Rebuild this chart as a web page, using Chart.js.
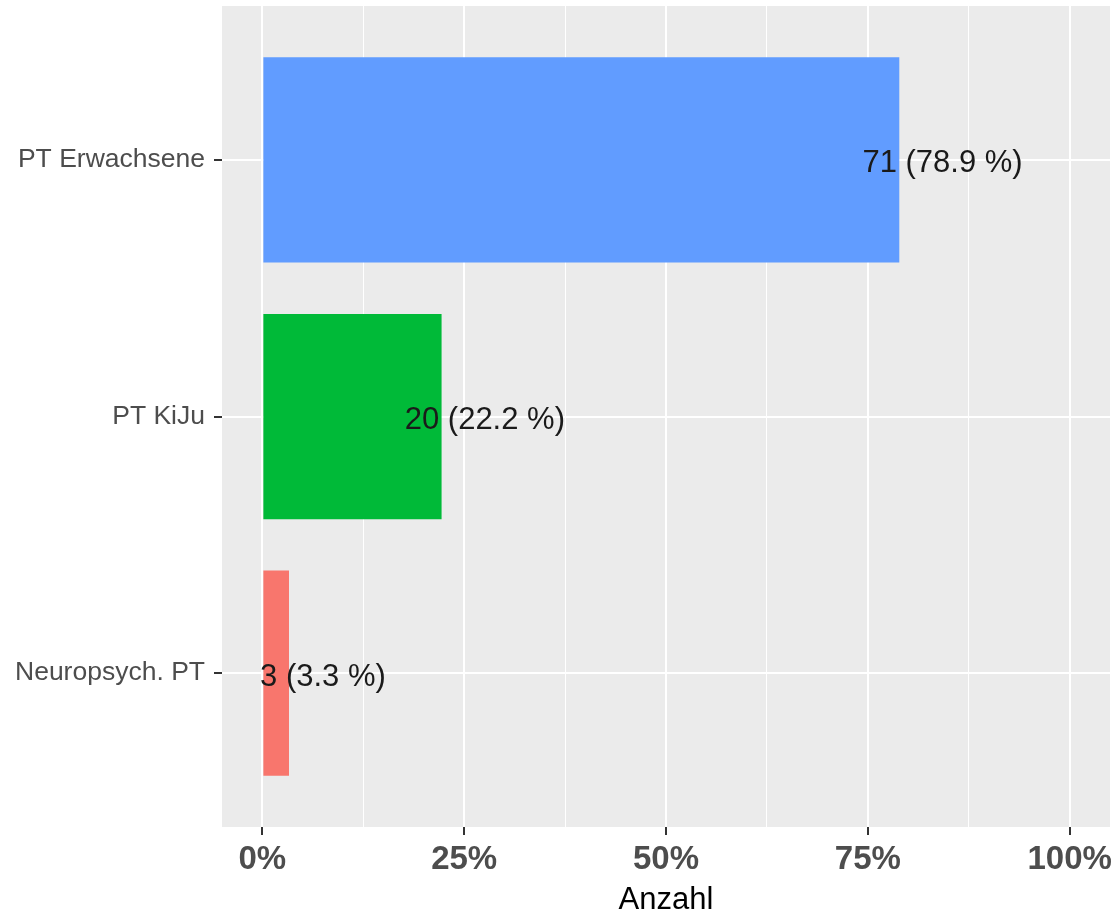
<!DOCTYPE html>
<html>
<head>
<meta charset="utf-8">
<script src="https://cdn.jsdelivr.net/npm/chart.js@4/dist/chart.umd.min.js"></script>
<style>
  html, body { margin: 0; padding: 0; background: #fff; }
  #wrap { width: 1113px; height: 915px; }
</style>
</head>
<body>
<div id="wrap"><canvas id="myChart" width="1113" height="915"></canvas></div>
<script>
// categories top to bottom
var categories = ["PT Erwachsene", "PT KiJu", "Neuropsych. PT"];
var counts = [71, 20, 3];
var percents = [78.9, 22.2, 3.3];
var barColors = ["#619CFF", "#00BA38", "#F8766D"];
var xTicks = [0, 25, 50, 75, 100];
var xMinor = [12.5, 37.5, 62.5, 87.5];

var FONT = "'Liberation Sans', Arial, sans-serif";

var points = categories.map(function (c, i) {
  return { x: percents[i], y: i + 1 };
});

var panelBg = {
  id: "panelBg",
  beforeDraw: function (chart) {
    var a = chart.chartArea, ctx = chart.ctx;
    ctx.save();
    ctx.fillStyle = "#EBEBEB";
    ctx.fillRect(a.left, a.top, a.right - a.left, a.bottom - a.top);
    ctx.restore();
  }
};

var barLabels = {
  id: "barLabels",
  afterDatasetsDraw: function (chart) {
    var ctx = chart.ctx;
    var meta = chart.getDatasetMeta(0);
    ctx.save();
    ctx.font = "31px " + FONT;
    ctx.fillStyle = "#1A1A1A";
    ctx.textAlign = "left";
    ctx.textBaseline = "middle";
    meta.data.forEach(function (bar, i) {
      var txt = counts[i] + " (" + percents[i].toFixed(1) + " %)";
      var w = ctx.measureText(txt).width;
      ctx.fillText(txt, bar.x - 0.23 * w, bar.y + 4);
    });
    ctx.restore();
  }
};

new Chart("myChart", {
  type: "bar",
  data: {
    datasets: [{
      data: points,
      backgroundColor: barColors,
      borderWidth: 0,
      categoryPercentage: 1,
      barPercentage: 0.8
    }]
  },
  options: {
    indexAxis: "y",
    responsive: false,
    animation: false,
    layout: { padding: { top: 6, right: 3, left: 0, bottom: 0 } },
    plugins: { legend: { display: false }, tooltip: { enabled: false } },
    scales: {
      x: {
        type: "linear",
        min: -5,
        max: 105,
        afterBuildTicks: function (s) {
          s.ticks = xTicks.concat(xMinor).sort(function (a, b) { return a - b; })
            .map(function (v) { return { value: v }; });
        },
        afterFit: function (s) {
          s.height = 88;
          s.paddingLeft = 0;
          s.paddingRight = 0;
        },
        border: { display: false },
        grid: {
          color: "#FFFFFF",
          lineWidth: function (c) { return xTicks.indexOf(c.tick.value) >= 0 ? 2 : 1; },
          tickColor: function (c) { return xTicks.indexOf(c.tick.value) >= 0 ? "#333333" : "rgba(0,0,0,0)"; },
          tickWidth: 2,
          tickLength: 8
        },
        ticks: {
          autoSkip: false,
          maxRotation: 0,
          padding: 5,
          color: "#4D4D4D",
          font: { family: FONT, size: 33, weight: "bold" },
          callback: function (v) { return xTicks.indexOf(v) >= 0 ? v + "%" : ""; }
        },
        title: {
          display: true,
          text: "Anzahl",
          color: "#000000",
          padding: { top: 0, bottom: -4 },
          font: { family: FONT, size: 31 }
        }
      },
      y: {
        type: "linear",
        min: 0.4,
        max: 3.6,
        reverse: true,
        offset: false,
        afterBuildTicks: function (s) {
          s.ticks = categories.map(function (c, i) { return { value: i + 1 }; });
        },
        afterFit: function (s) {
          s.width = 222;
          s.paddingTop = 0;
          s.paddingBottom = 0;
        },
        border: { display: false },
        grid: {
          offset: false,
          color: "#FFFFFF",
          lineWidth: 2,
          tickColor: "#333333",
          tickWidth: 2,
          tickLength: 8
        },
        ticks: {
          autoSkip: false,
          padding: 9,
          color: "#4D4D4D",
          font: { family: FONT, size: 26.5 },
          callback: function (v) { return categories[v - 1]; }
        }
      }
    }
  },
  plugins: [panelBg, barLabels]
});
</script>
</body>
</html>
